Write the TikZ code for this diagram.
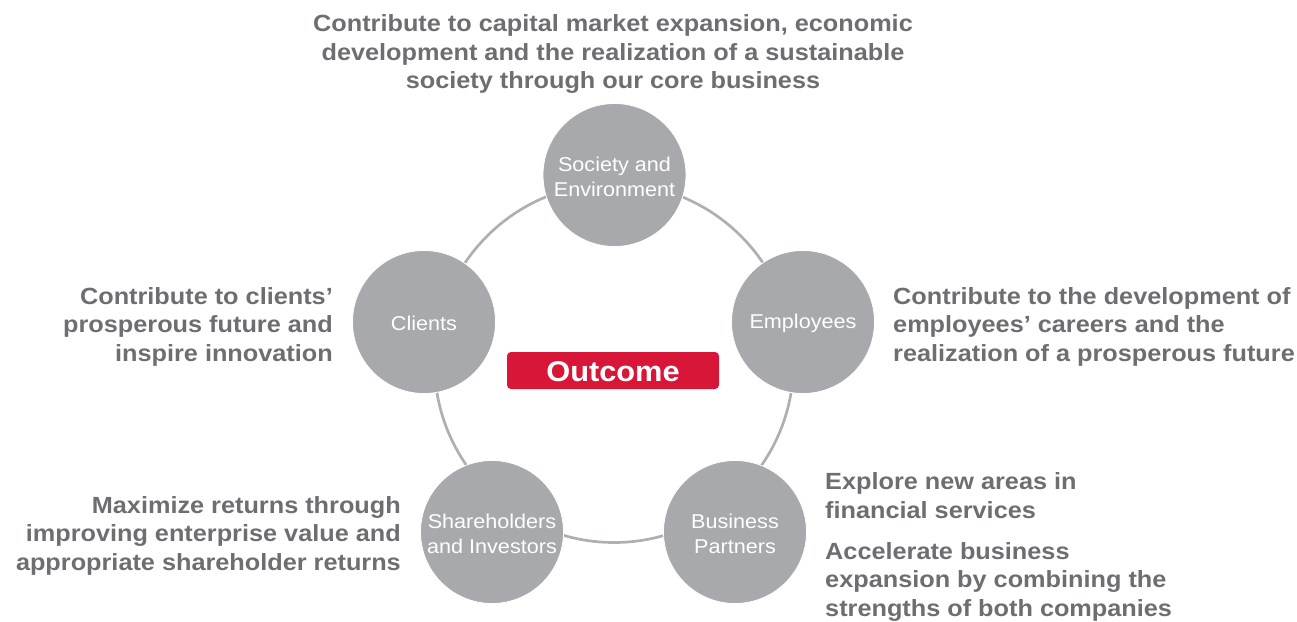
\documentclass[tikz,border=0pt]{standalone}
\usepackage{fontspec}
\setmainfont{Liberation Sans}[FakeStretch=1.08]
\usetikzlibrary{positioning}

\definecolor{disc}{HTML}{A7A9AC}
\definecolor{ringgray}{HTML}{AEAFB2}
\definecolor{labelgray}{HTML}{6D6E71}
\definecolor{outred}{HTML}{D71638}

\tikzset{
  stakeholder/.style={circle, fill=disc, draw=white, line width=0.8pt,
    minimum size=143pt, inner sep=0pt},
  disclabel/.style={inner sep=0pt, text=white, align=center,
    font=\fontsize{20}{25}\selectfont},
  goal/.style={inner sep=0pt, text=labelgray,
    font=\bfseries\fontsize{23.4}{28.5}\selectfont},
  badge/.style={rectangle, rounded corners=4pt, fill=outred,
    minimum width=212pt, minimum height=37pt, inner sep=0pt},
  badgelabel/.style={inner sep=0pt, text=white,
    font=\bfseries\fontsize{28.5}{30}\selectfont},
  ring/.style={draw=ringgray, line width=2.7pt}
}

\begin{document}
\begin{tikzpicture}[x=1pt,y=-1pt]
  \useasboundingbox (0,0) rectangle (1297,621);

  % the ring that links the five stakeholders
  \coordinate (hub) at (614,363);
  \draw[ring] (hub) circle[radius=179.5];

  % stakeholder discs
  \node[stakeholder] (society) at (614.5,175) {};
  \node[stakeholder] (clients) at (424,322) {};
  \node[stakeholder] (employees) at (803,322) {};
  \node[stakeholder] (holders) at (492,532) {};
  \node[stakeholder] (partners) at (735,532) {};

  % disc labels, set a little below each centre
  \node[disclabel] (societytext) at ([yshift=-1.5pt]society.center) {Society and\\Environment};
  \node[disclabel] (clientstext) at ([yshift=-1.5pt]clients.center) {Clients};
  \node[disclabel] (employeestext) at ([yshift=-1.5pt]employees.center) {Employees};
  \node[disclabel] (holderstext) at ([yshift=-1.5pt]holders.center) {Shareholders\\and Investors};
  \node[disclabel] (partnerstext) at ([yshift=-1.5pt]partners.center) {Business\\Partners};

  % central badge
  \node[badge] (outcome) at (613,370.5) {};
  \node[badgelabel] (outcometext) at ([yshift=-1.5pt]outcome.center) {Outcome};

  % goals for each stakeholder
  \node[goal, align=center] (societygoal) at (613,54.5)
    {Contribute to capital market expansion, economic\\
     development and the realization of a sustainable\\
     society through our core business};
  \node[goal, align=right, anchor=east] (clientsgoal) at (333,326.5)
    {Contribute to clients’\\prosperous future and\\inspire innovation};
  \node[goal, align=left, anchor=west] (employeesgoal) at (893,326.5)
    {Contribute to the development of\\employees’ careers and the\\
     realization of a prosperous future};
  \node[goal, align=right, anchor=east] (holdersgoal) at (401,535.5)
    {Maximize returns through\\improving enterprise value and\\
     appropriate shareholder returns};
  \node[goal, align=left, anchor=west] (partnersgoal1) at (825,495.5)
    {Explore new areas in\\financial services};
  \node[goal, align=left, anchor=west] (partnersgoal2) at (825,581.5)
    {Accelerate business\\expansion by combining the\\
     strengths of both companies};
\end{tikzpicture}
\end{document}
